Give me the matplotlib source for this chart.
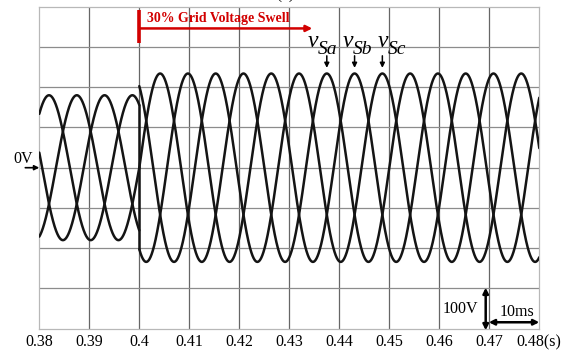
import matplotlib
matplotlib.use("Agg")
import matplotlib.pyplot as plt
import numpy as np

plt.rcParams['font.family'] = ['Liberation Serif', 'DejaVu Serif']

# supply voltages, 60 Hz, 30% swell at t = 0.4 s
freq_hz = 60.0
swell_t = 0.4
amp_before = 180.0   # V peak
amp_after = 234.0    # V peak
phase_names = ['Sa', 'Sb', 'Sc']
phase_lag_deg = [0.0, 120.0, 240.0]
label_cycle = 2      # which cycle after the swell the phase labels point to

x_ticks = [0.38, 0.39, 0.40, 0.41, 0.42, 0.43, 0.44, 0.45, 0.46, 0.47, 0.48]
x_tick_labels = ['0.38', '0.39', '0.4', '0.41', '0.42', '0.43', '0.44',
                 '0.45', '0.46', '0.47', '0.48(s)']
y_grid = [-400, -300, -200, -100, 0, 100, 200, 300, 400]

t_pre = np.linspace(x_ticks[0], swell_t, 2000)
t_post = np.linspace(swell_t, x_ticks[-1], 8000)


def phase_voltage(t, amp, lag):
    return amp * np.sin(2 * np.pi * freq_hz * (t - swell_t) - np.deg2rad(lag))


fig = plt.figure(figsize=(5.65, 3.5), dpi=100)
ax = fig.add_axes([39.3 / 565, 21.3 / 350, 500 / 565, 322 / 350])
ax.set_xlim(x_ticks[0], x_ticks[-1])
ax.set_ylim(y_grid[0], y_grid[-1])

wave = dict(color='#141414', lw=1.8, solid_capstyle='round', zorder=3)
pre = {}
post = {}
for name, lag in zip(phase_names, phase_lag_deg):
    pre[name] = phase_voltage(t_pre, amp_before, lag)
    post[name] = phase_voltage(t_post, amp_after, lag)
    ax.plot(t_pre, pre[name], **wave)
    ax.plot(t_post, post[name], **wave)

# switching transient: trace drops from vSc down onto vSb at the swell instant
ax.plot([swell_t, swell_t], [pre['Sc'][-1], post['Sb'][0]], **wave)

# grid
ax.set_xticks(x_ticks)
ax.set_xticklabels(x_tick_labels)
ax.set_yticks(y_grid)
ax.set_yticklabels([])
ax.tick_params(length=0, labelsize=11.5, pad=4)
for x in x_ticks[1:-1]:
    ax.axvline(x, color='#666666', lw=0.9, zorder=1)
for y in y_grid[1:-1]:
    ax.axhline(y, color='#8c8c8c', lw=0.9, zorder=1)
for s in ax.spines.values():
    s.set_color('#b8b8b8')
    s.set_linewidth(0.9)

# swell marker
red = '#d20000'
ax.plot([swell_t, swell_t], [310, 391], color=red, lw=2.6, solid_capstyle='butt',
        zorder=4, clip_on=False)
ax.annotate('', xy=(0.4346, 346), xytext=(swell_t, 346),
            arrowprops=dict(arrowstyle='-|>', color=red, lw=1.8,
                            mutation_scale=9, shrinkA=0, shrinkB=0))
ax.text(0.40156, 371, '30% Grid Voltage Swell', color=red, fontsize=10,
        fontweight='bold', va='center', ha='left')

# phase labels with arrows pointing at the peaks
label_left = [0.43368, 0.44068, 0.44768]
for name, lag, tl in zip(phase_names, phase_lag_deg, label_left):
    tp = swell_t + (0.25 + lag / 360.0 + label_cycle) / freq_hz
    ax.annotate('', xy=(tp, 248), xytext=(tp, 278),
                arrowprops=dict(arrowstyle='-|>', color='k', lw=1.1,
                                mutation_scale=7, shrinkA=0, shrinkB=0))
    ax.text(tl, 300, 'v', fontsize=17, fontstyle='italic', ha='left', va='baseline')
    ax.annotate(name, xy=(tl, 300), xytext=(10, -7), textcoords='offset pixels',
                fontsize=14, fontstyle='italic', ha='left', va='baseline')

# zero reference
ax.annotate('', xy=(x_ticks[0], 0), xytext=(-14, 0), textcoords='offset pixels',
            arrowprops=dict(arrowstyle='-|>', color='k', lw=1.2,
                            mutation_scale=7, shrinkA=0, shrinkB=0),
            annotation_clip=False)
ax.annotate('0V', xy=(x_ticks[0], 0), xytext=(-26, 9), textcoords='offset pixels',
            fontsize=11.5, ha='left', va='center', annotation_clip=False)

# scale bars
bar = dict(arrowstyle='<|-|>', color='k', lw=1.8, mutation_scale=8,
           shrinkA=0, shrinkB=0)
ax.annotate('', xy=(0.46928, -298), xytext=(0.46928, -404), arrowprops=bar,
            annotation_clip=False)
ax.annotate('', xy=(0.4699, -384), xytext=(0.48, -384), arrowprops=bar,
            annotation_clip=False)
ax.text(0.46414, -351, '100V', fontsize=11.5, ha='center', va='center')
ax.text(0.47548, -358, '10ms', fontsize=11.5, ha='center', va='center')

fig.text(285 / 565, 1 + 1.5 / 350, '(b)', fontsize=11, ha='center', va='baseline')

fig.savefig('out.png', dpi=100, facecolor='white')
